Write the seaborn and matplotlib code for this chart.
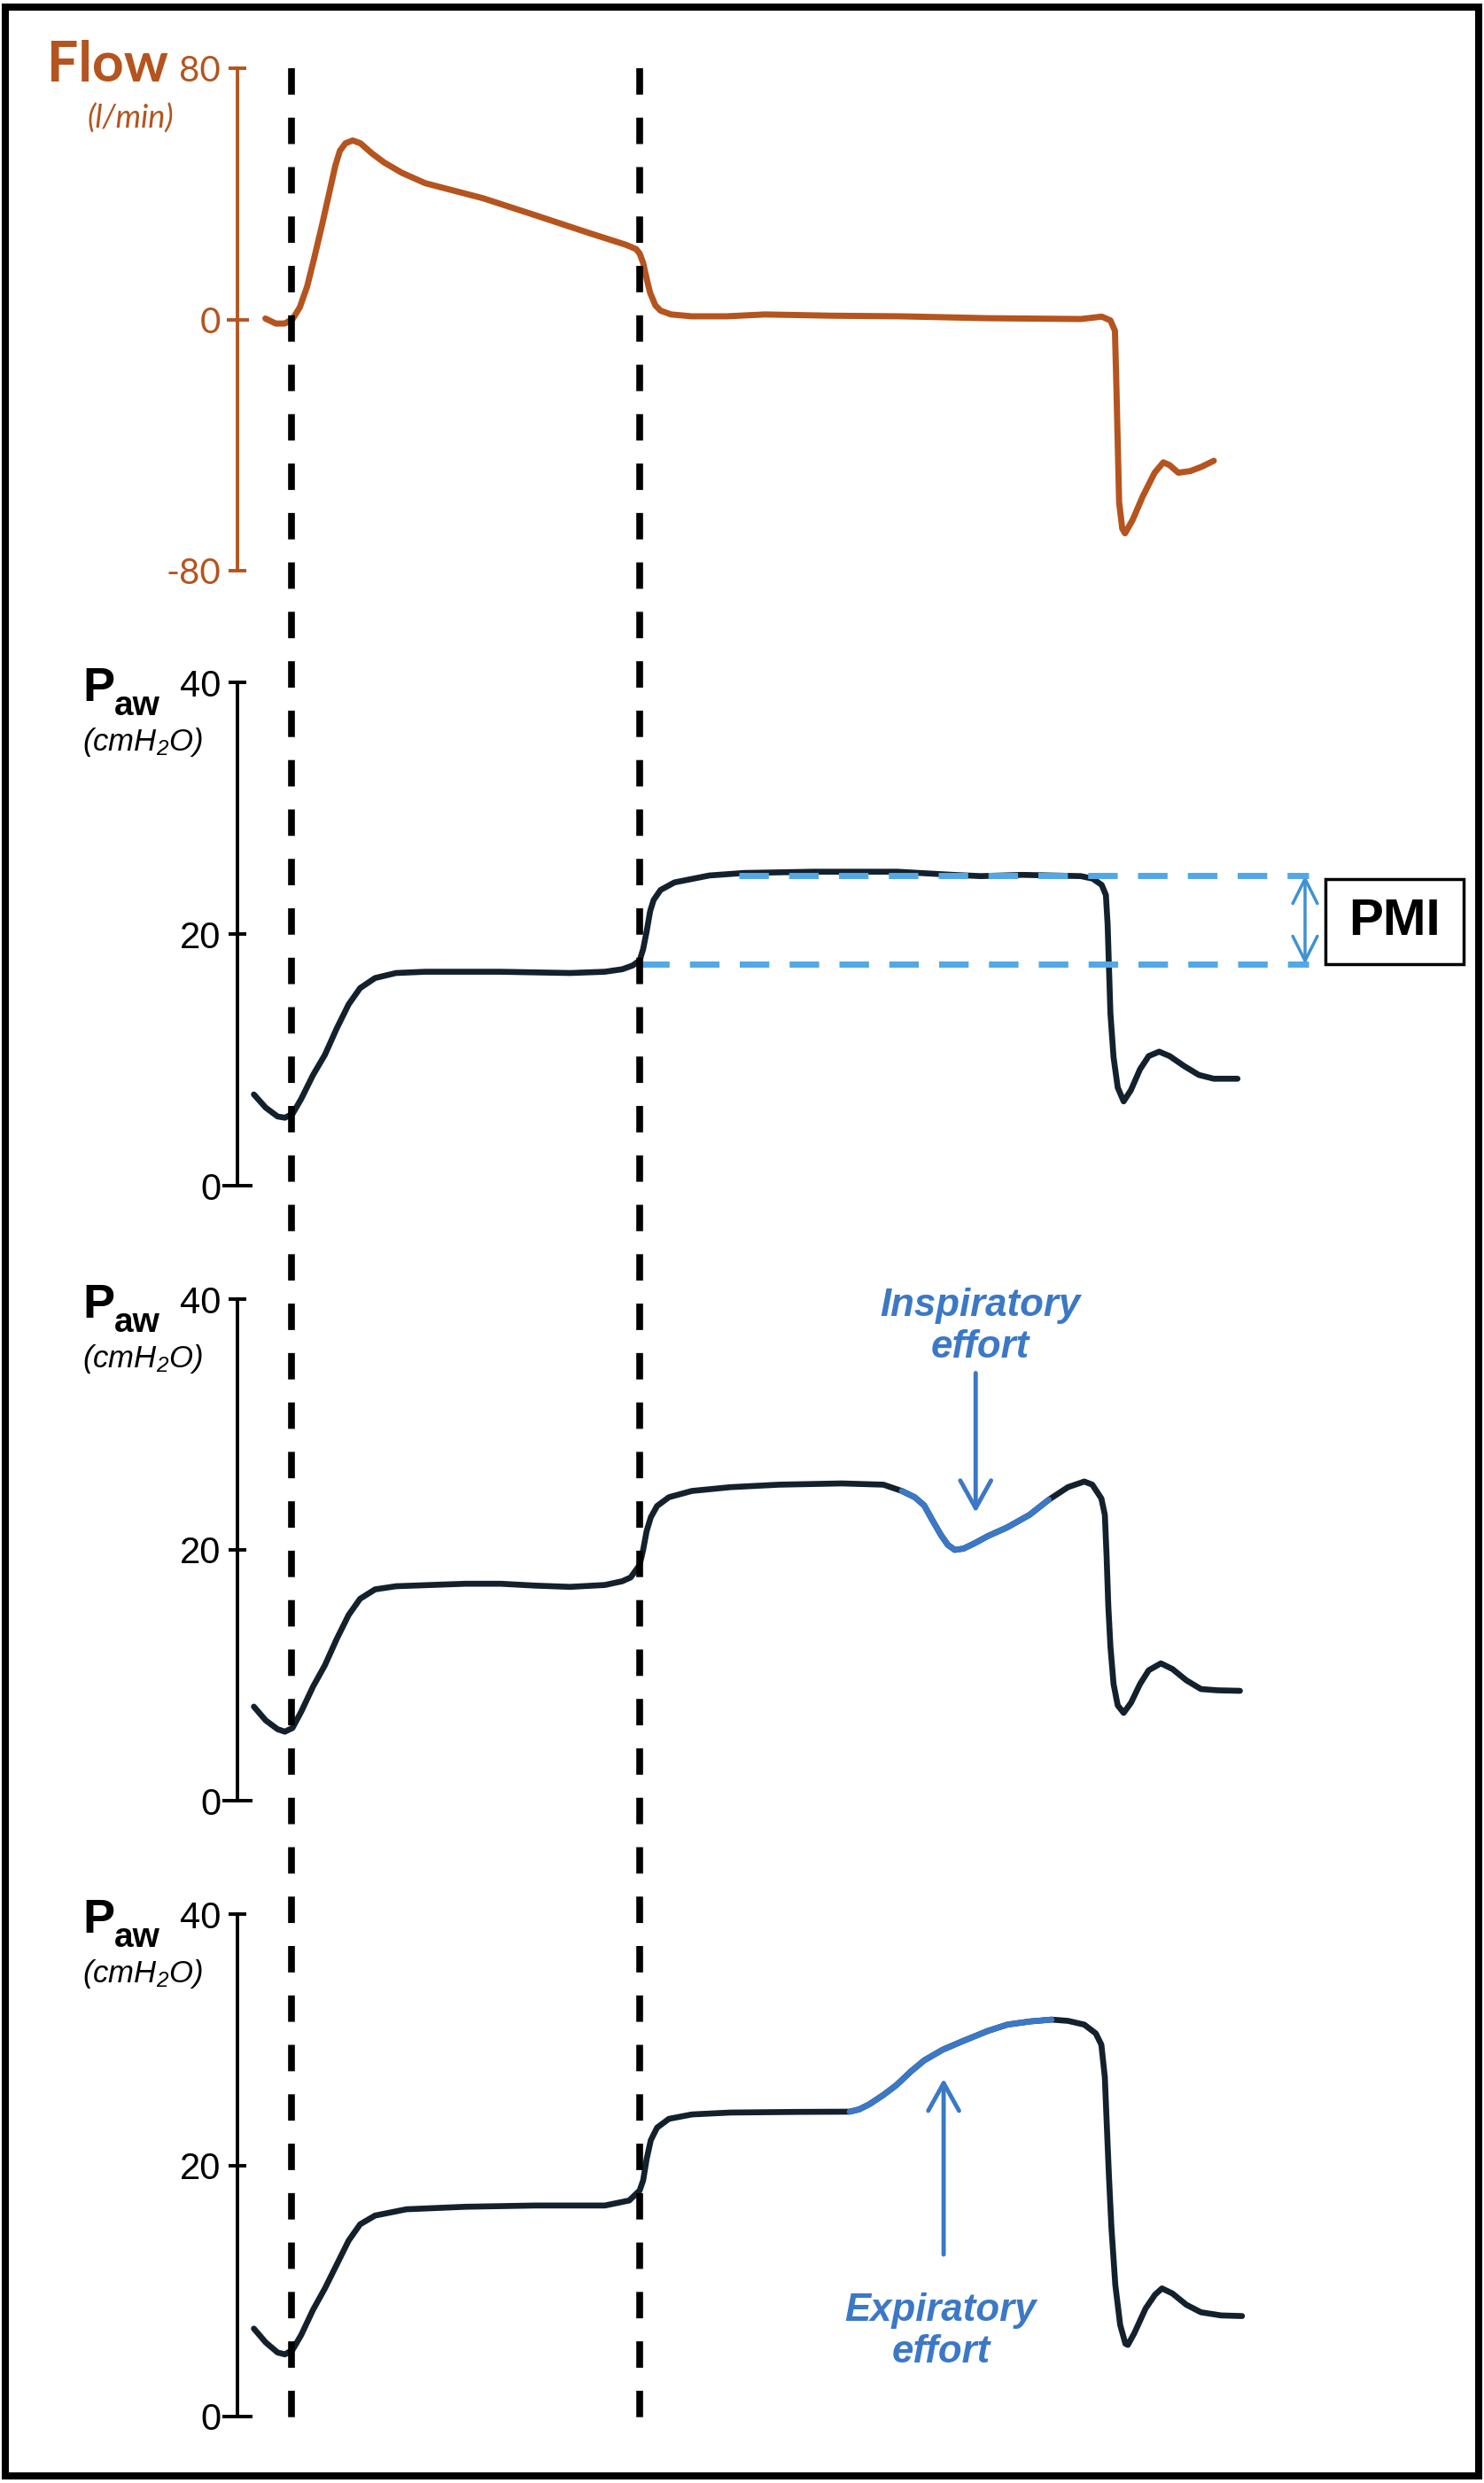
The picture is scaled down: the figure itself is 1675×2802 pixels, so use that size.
import pandas as pd
import matplotlib
matplotlib.use("Agg")
import matplotlib.pyplot as plt
import seaborn as sns
from matplotlib.patches import Rectangle

# time in s: 0 = start of inspiration, 1 = end of inspiratory flow
event_t = [0.0, 1.0]

flow_t = [-0.075, -0.045, -0.02, 0.003, 0.024, 0.045, 0.066, 0.088, 0.109, 0.126, 0.139,
          0.155, 0.176, 0.198, 0.232, 0.266, 0.317, 0.384, 0.55, 0.70, 0.85, 0.96, 0.99,
          1.0, 1.01, 1.02, 1.03, 1.045, 1.06, 1.09, 1.15, 1.25, 1.36, 1.55, 1.75, 2.00,
          2.267, 2.327, 2.352, 2.365, 2.369, 2.373, 2.377, 2.386, 2.394, 2.416, 2.445,
          2.479, 2.504, 2.522, 2.547, 2.581, 2.614, 2.649]
flow_v = [0.3, -1.3, -1.3, 0.1, 3.9, 10.5, 19.9, 30.2, 40.6, 49.0, 53.7,
          56.1, 57.0, 56.1, 52.8, 50.0, 46.7, 43.4, 38.6, 33.2, 27.7, 23.8, 22.4,
          21.0, 18.0, 13.0, 8.5, 4.5, 2.8, 1.6, 1.0, 1.0, 1.6, 1.2, 1.0, 0.4,
          0.14, 0.9, -0.3, -3.6, -20.5, -39.4, -58.2, -66.6, -68.1, -63.8, -56.3,
          -48.8, -45.5, -46.4, -48.8, -48.3, -46.9, -45.0]

# Paw, passive breath (PMI manoeuvre)
paw1_t = [-0.108, -0.074, -0.04, -0.019, 0.003, 0.028, 0.062, 0.096, 0.13, 0.164, 0.197,
          0.24, 0.30, 0.384, 0.50, 0.60, 0.70, 0.80, 0.90, 0.95, 0.98, 1.0, 1.01, 1.02,
          1.03, 1.04, 1.06, 1.10, 1.20, 1.30, 1.50, 1.74, 1.90, 1.98, 2.10, 2.267, 2.301,
          2.327, 2.339, 2.344, 2.348, 2.352, 2.361, 2.373, 2.39, 2.411, 2.437, 2.462,
          2.492, 2.522, 2.564, 2.606, 2.649, 2.717]
paw1_v = [7.25, 6.2, 5.5, 5.4, 5.7, 6.9, 8.8, 10.4, 12.5, 14.4, 15.7,
          16.5, 16.9, 17.0, 17.0, 17.0, 16.95, 16.9, 17.0, 17.2, 17.5, 17.9, 18.8, 20.2,
          21.8, 22.7, 23.5, 24.1, 24.65, 24.85, 24.95, 24.95, 24.7, 24.6, 24.7, 24.6, 24.4,
          23.9, 23.1, 20.75, 17.2, 13.7, 10.2, 7.8, 6.7, 7.6, 9.25, 10.3,
          10.65, 10.3, 9.5, 8.8, 8.5, 8.5]

# Paw with inspiratory effort during the pause
paw2_t = [-0.108, -0.074, -0.04, -0.019, 0.003, 0.028, 0.062, 0.096, 0.13, 0.164, 0.197,
          0.24, 0.30, 0.40, 0.50, 0.60, 0.70, 0.80, 0.90, 0.95, 0.974, 1.0, 1.01,
          1.02, 1.032, 1.05, 1.084, 1.15, 1.26, 1.40, 1.58, 1.70, 1.753, 1.79, 1.817,
          1.84, 1.865, 1.885, 1.905, 1.93, 1.96, 2.00, 2.056, 2.12, 2.175, 2.23, 2.277,
          2.30, 2.326, 2.336, 2.341, 2.346, 2.352, 2.361, 2.373, 2.39, 2.411, 2.437,
          2.462, 2.497, 2.53, 2.57, 2.612, 2.66, 2.724]
paw2_v = [7.5, 6.4, 5.7, 5.5, 5.8, 7.1, 9.1, 10.8, 12.9, 14.8, 16.1,
          16.85, 17.1, 17.2, 17.3, 17.3, 17.15, 17.05, 17.2, 17.5, 17.8, 18.8, 20.0,
          21.5, 22.6, 23.5, 24.2, 24.7, 25.0, 25.2, 25.3, 25.2, 24.7, 24.2, 23.55,
          22.4, 21.2, 20.4, 20.0, 20.1, 20.5, 21.1, 21.8, 22.8, 24.0, 25.0, 25.45,
          25.2, 24.1, 22.8, 19.5, 15.5, 12.3, 9.3, 7.6, 7.0, 7.8, 9.3,
          10.4, 10.95, 10.5, 9.6, 8.9, 8.8, 8.76]

# Paw with expiratory effort during the pause
paw3_t = [-0.108, -0.074, -0.04, -0.019, 0.003, 0.028, 0.062, 0.096, 0.13, 0.164, 0.197,
          0.24, 0.33, 0.50, 0.70, 0.90, 0.97, 1.0, 1.01, 1.02, 1.032, 1.05, 1.084,
          1.15, 1.26, 1.45, 1.603, 1.63, 1.659, 1.70, 1.738, 1.78, 1.817, 1.87, 1.929,
          2.00, 2.056, 2.12, 2.183, 2.23, 2.277, 2.31, 2.326, 2.336, 2.341, 2.348, 2.355,
          2.366, 2.38, 2.395, 2.402, 2.42, 2.453, 2.48, 2.50, 2.53, 2.57, 2.612, 2.67, 2.73]
paw3_v = [7.0, 5.9, 5.1, 4.95, 5.3, 6.5, 8.5, 10.2, 12.1, 14.0, 15.3,
          16.0, 16.5, 16.7, 16.8, 16.8, 17.2, 18.0, 18.8, 20.5, 22.0, 23.0, 23.7,
          24.05, 24.2, 24.25, 24.27, 24.45, 24.85, 25.6, 26.4, 27.5, 28.35, 29.2, 29.9,
          30.7, 31.2, 31.45, 31.6, 31.5, 31.2, 30.5, 29.6, 27.0, 23.6, 19.0, 15.0,
          10.5, 7.3, 5.8, 5.7, 6.6, 8.6, 9.7, 10.2, 9.8, 8.9, 8.3, 8.05, 8.0]

insp_effort = (1.753, 2.175)
exp_effort = (1.603, 2.183)
pmi_low, pmi_high = 17.6, 24.65

flow_ticks = [-80, 0, 80]
paw_ticks = [0, 20, 40]

BROWN = "#B5541E"
DARK = "#13212D"
EBLUE = "#3B78C6"
LBLUE = "#52A8E6"
ABLUE = "#3E92D2"

sns.set_theme(style="white")
plt.rcParams["font.family"] = ["Liberation Sans", "DejaVu Sans"]
plt.rcParams["axes.unicode_minus"] = False
plt.rcParams["mathtext.fontset"] = "custom"
plt.rcParams["mathtext.rm"] = "Liberation Sans:italic"
plt.rcParams["mathtext.it"] = "Liberation Sans:italic"

W, H = 1675, 2802
fig = plt.figure(figsize=(W / 100, H / 100), dpi=100)
fig.patch.set_facecolor("white")


def fx(px):
    return px / W


def fy(py):
    return 1 - py / H


# horizontal layout: spine at px 268, t=0 at px 329, 393 px per second
X0, X1 = 268, 1660
xlim = ((X0 - 329) / 393, (X1 - 329) / 393)


def panel(top, bottom):
    return fig.add_axes([fx(X0), fy(bottom), fx(X1) - fx(X0), (bottom - top) / H])


def style(ax, ylim, ticks, color, family, size, zero_len):
    ax.set_xlim(xlim)
    ax.set_ylim(ylim)
    for s in ["top", "right", "bottom"]:
        ax.spines[s].set_visible(False)
    ax.spines["left"].set_color(color)
    ax.spines["left"].set_linewidth(2.8)
    ax.set_xticks([])
    ax.set_yticks(ticks, labels=[str(t) for t in ticks])
    ax.tick_params(axis="y", direction="inout", length=15, width=2.8, color=color,
                   labelcolor=color, labelsize=size, pad=6, left=True)
    for lab in ax.get_yticklabels():
        lab.set_fontfamily(family)
    ax.set_xlabel("")
    ax.set_ylabel("")
    ax.patch.set_alpha(0)
    ax.grid(False)
    # the zero tick is drawn a bit longer
    ax.yaxis.get_major_ticks()[ticks.index(0)].tick1line.set_markersize(zero_len)


def curve(ax, t, v, color, lw, seg=None):
    df = pd.DataFrame({"t": t, "v": v})
    if seg is not None:
        df = df[(df["t"] >= seg[0]) & (df["t"] <= seg[1])]
    sns.lineplot(data=df, x="t", y="v", ax=ax, color=color, linewidth=lw,
                 estimator=None, sort=False, solid_capstyle="round", zorder=3)


# ---- Flow panel
ax0 = panel(77, 644)
curve(ax0, flow_t, flow_v, BROWN, 5.0)
style(ax0, (-80, 80), flow_ticks, BROWN, "Lato", 29, 18)
fig.text(fx(190), fy(91.5), "Flow", ha="right", va="baseline", fontsize=45,
         fontweight="bold", color=BROWN, family="Lato")
fig.text(fx(147), fy(134), "(l/min)", ha="center", va="center", fontsize=26,
         style="italic", color=BROWN, family="Lato")

# ---- Paw panels
tops = [770, 1466, 2160]
bottoms = [1338, 2032, 2727]
axes = []
for tp, bt in zip(tops, bottoms):
    axes.append(panel(tp, bt))
ax1, ax2, ax3 = axes

curve(ax1, paw1_t, paw1_v, DARK, 4.8)
curve(ax2, paw2_t, paw2_v, DARK, 4.8)
curve(ax2, paw2_t, paw2_v, EBLUE, 4.8, seg=insp_effort)
curve(ax3, paw3_t, paw3_v, DARK, 4.8)
curve(ax3, paw3_t, paw3_v, EBLUE, 4.8, seg=exp_effort)

for ax, tp in zip(axes, tops):
    style(ax, (0, 40), paw_ticks, "black", "Liberation Sans", 30, 24)
    fig.text(fx(93), fy(tp + 21), "P", ha="left", va="baseline", fontsize=39,
             fontweight="bold", color="black")
    fig.text(fx(129), fy(tp + 37), "aw", ha="left", va="baseline", fontsize=28,
             fontweight="bold", color="black")
    fig.text(fx(161), fy(tp + 67), r"(cmH$_2$O)", ha="center", va="center",
             fontsize=25, style="italic", color="black")

# PMI: plateau levels, double arrow and boxed label
ax1.plot([1.0, 2.92], [pmi_low, pmi_low], color=LBLUE, lw=5, dashes=(4.8, 3.3),
         solid_capstyle="butt", zorder=5, clip_on=False)
ax1.plot([1.285, 2.92], [pmi_high, pmi_high], color=LBLUE, lw=5, dashes=(4.8, 3.3),
         solid_capstyle="butt", zorder=5, clip_on=False)
ax1.annotate("", xy=(2.911, pmi_high), xytext=(2.911, pmi_low),
             arrowprops=dict(arrowstyle="<->,head_length=0.4,head_width=0.2", color=ABLUE,
                             lw=2.5, mutation_scale=50, shrinkA=0, shrinkB=0))
ax1.add_patch(Rectangle((2.969, 17.6), 0.397, 6.77, fill=False, edgecolor="black",
                        lw=2.5, clip_on=False, zorder=5))
ax1.text(3.168, 20.99, "PMI", ha="center", va="center", fontsize=42, fontweight="bold",
         color="black", zorder=6)

# effort annotations
ax2.annotate("", xy=(1.965, 22.97), xytext=(1.965, 34.1),
             arrowprops=dict(arrowstyle="->,head_length=0.45,head_width=0.25", color=EBLUE,
                             lw=3.5, mutation_scale=50, shrinkA=0, shrinkB=0))
ax2.text(1.977, 37.8, "Inspiratory\neffort", ha="center", va="center", color=EBLUE,
         fontsize=31.5, fontweight="bold", fontstyle="italic", linespacing=1.2)
ax3.annotate("", xy=(1.873, 26.9), xytext=(1.873, 12.9),
             arrowprops=dict(arrowstyle="->,head_length=0.45,head_width=0.25", color=EBLUE,
                             lw=3.5, mutation_scale=50, shrinkA=0, shrinkB=0))
ax3.text(1.865, 6.77, "Expiratory\neffort", ha="center", va="center", color=EBLUE,
         fontsize=31.5, fontweight="bold", fontstyle="italic", linespacing=1.2)

# vertical dashed lines across all panels
ov = fig.add_axes([fx(X0), fy(2730), fx(X1) - fx(X0), (2730 - 77) / H])
ov.set_xlim(xlim)
ov.set_ylim(0, 1)
ov.axis("off")
for t in event_t:
    ov.plot([t, t], [1, 0], color="black", lw=5.5, dashes=(3.9, 3.4),
            solid_capstyle="butt", zorder=10)

# outer frame
fig.add_artist(Rectangle((fx(6), fy(2794)), fx(1669) - fx(6), (2794 - 8) / H,
                         transform=fig.transFigure, fill=False, edgecolor="black", lw=5.8))

fig.savefig("out.png", dpi=100)
